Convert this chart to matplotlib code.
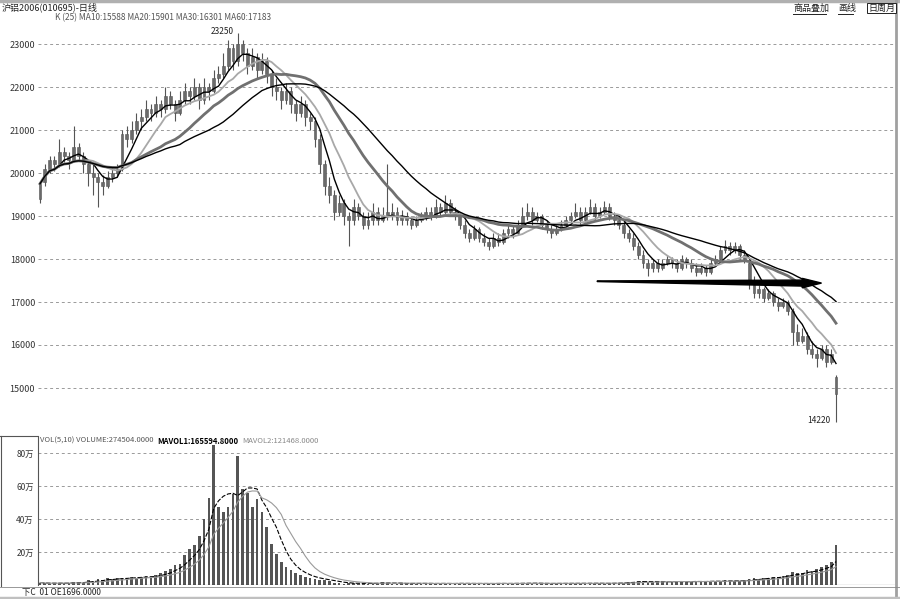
import numpy as np
import pandas as pd
import matplotlib
matplotlib.use("Agg")
import matplotlib.pyplot as plt
from matplotlib.patches import Polygon

plt.rcParams['font.family'] = ['Noto Sans CJK SC', 'DejaVu Sans']

# daily candles (price)
opens = [19400, 19800, 20100, 20300, 20200, 20500, 20400, 20300, 20600, 20400,
         20200, 20000, 19900, 19800, 19700, 19900, 20000, 20100, 20900, 20800,
         21000, 21200, 21300, 21500, 21400, 21600, 21500, 21800, 21600, 21400,
         21700, 21900, 21800, 22000, 21700, 22000, 21900, 22200, 22300, 22500,
         22900, 22600, 23000, 22800, 22500, 22700, 22400, 22600, 22300, 22000,
         21900, 21700, 21900, 21600, 21400, 21600, 21300, 21200, 20800, 20200,
         19700, 19500, 19100, 19300, 19000, 18900, 19200, 19000, 18800, 18900,
         19100, 18900, 19100, 19000, 19100, 18900, 19000, 18900, 18800, 18900,
         19000, 19100, 19000, 19200, 19100, 19300, 19100, 19000, 18800, 18600,
         18500, 18700, 18500, 18400, 18300, 18500, 18400, 18600, 18700, 18600,
         18800, 19000, 19100, 18900, 19000, 18800, 18700, 18600, 18700, 18800,
         18900, 19000, 19100, 18900, 19100, 19200, 19000, 19100, 19200, 19000,
         18900, 18800, 18600, 18500, 18300, 18100, 17900, 17800, 17900, 17800,
         17900, 18000, 17900, 17800, 18000, 17900, 17800, 17700, 17800, 17700,
         17900, 18000, 18200, 18300, 18200, 18300, 18100, 17900, 17500, 17200,
         17300, 17100, 17200, 17000, 16900, 17000, 16800, 16300, 16100, 16200,
         15900, 15800, 15700, 15900, 15600, 15250]
highs = [19800, 20200, 20400, 20400, 20800, 20600, 20500, 21100, 20700, 20500,
         20300, 20200, 20000, 19950, 20050, 20150, 20200, 21000, 21100, 21200,
         21400, 21500, 21700, 21600, 21800, 21700, 22000, 21900, 21700, 21900,
         22100, 22000, 22200, 22100, 22200, 22100, 22400, 22500, 22800, 23100,
         23000, 23250, 23100, 22900, 22900, 22800, 22800, 22700, 22400, 22200,
         22000, 22100, 22000, 21700, 21800, 21700, 21400, 21300, 20900, 20300,
         19900, 19600, 19500, 19400, 19100, 19400, 19300, 19100, 19100, 19300,
         19200, 19200, 20200, 19300, 19200, 19150, 19100, 19000, 19000, 19100,
         19200, 19200, 19400, 19300, 19500, 19400, 19200, 19100, 18900, 18700,
         18800, 18750, 18600, 18500, 18600, 18600, 18700, 18800, 18800, 18900,
         19200, 19300, 19200, 19100, 19050, 18900, 18800, 18800, 18900, 19000,
         19100, 19300, 19200, 19200, 19400, 19300, 19200, 19350, 19300, 19100,
         19000, 18900, 18700, 18600, 18400, 18200, 18000, 18000, 18000, 18000,
         18100, 18050, 18000, 18100, 18050, 18000, 17900, 17900, 17850, 18000,
         18100, 18300, 18450, 18400, 18400, 18350, 18200, 18000, 17600, 17400,
         17350, 17300, 17250, 17100, 17100, 17050, 16850, 16500, 16400, 16300,
         16100, 15900, 16000, 16000, 15900, 15300]
lows = [19300, 19700, 20000, 20050, 20150, 20250, 20100, 20250, 20300, 20000,
        19700, 19500, 19200, 19500, 19650, 19800, 19900, 20050, 20600, 20700,
        20900, 21000, 21200, 21200, 21300, 21300, 21400, 21500, 21200, 21350,
        21600, 21600, 21700, 21500, 21600, 21700, 21850, 22100, 22200, 22400,
        22400, 22500, 22600, 22300, 22400, 22200, 22300, 22100, 21800, 21700,
        21500, 21600, 21400, 21200, 21300, 21100, 21000, 20600, 20000, 19500,
        19300, 18900, 19000, 18800, 18300, 18800, 18900, 18700, 18700, 18800,
        18800, 18850, 18900, 18900, 18800, 18800, 18800, 18700, 18750, 18850,
        18900, 18900, 18950, 19000, 19050, 19000, 18900, 18700, 18500, 18400,
        18450, 18400, 18300, 18200, 18250, 18300, 18350, 18500, 18500, 18550,
        18750, 18900, 18800, 18850, 18700, 18600, 18500, 18550, 18650, 18750,
        18850, 18950, 18800, 18850, 19050, 18900, 18950, 19050, 18900, 18800,
        18700, 18500, 18400, 18200, 18000, 17800, 17600, 17700, 17700, 17750,
        17850, 17800, 17700, 17750, 17800, 17700, 17600, 17650, 17600, 17650,
        17850, 17950, 18150, 18100, 18150, 18000, 17900, 17300, 17100, 17100,
        17000, 17050, 16900, 16800, 16850, 16700, 16000, 16000, 16050, 15800,
        15700, 15500, 15650, 15500, 15550, 14220]
closes = [19750, 20100, 20300, 20200, 20500, 20400, 20300, 20600, 20400, 20200,
          20000, 19900, 19800, 19700, 19900, 20000, 20100, 20900, 20800, 21000,
          21200, 21300, 21500, 21400, 21600, 21500, 21800, 21600, 21400, 21700,
          21900, 21800, 22000, 21700, 22000, 21900, 22200, 22300, 22500, 22900,
          22600, 23000, 22800, 22500, 22700, 22400, 22600, 22300, 22000, 21900,
          21700, 21900, 21600, 21400, 21600, 21300, 21200, 20800, 20200, 19700,
          19500, 19100, 19300, 19000, 18900, 19200, 19000, 18800, 18900, 19100,
          18900, 19000, 19000, 19100, 18900, 19000, 18900, 18800, 18900, 19000,
          19100, 19000, 19200, 19100, 19300, 19100, 19000, 18800, 18600, 18500,
          18700, 18500, 18400, 18300, 18500, 18400, 18600, 18700, 18600, 18800,
          19000, 19100, 18900, 19000, 18800, 18700, 18600, 18700, 18800, 18900,
          19000, 19100, 18900, 19100, 19200, 19000, 19100, 19200, 19000, 18900,
          18800, 18600, 18500, 18300, 18100, 17900, 17800, 17900, 17800, 17900,
          18000, 17900, 17800, 18000, 17900, 17800, 17700, 17800, 17700, 17900,
          18000, 18200, 18300, 18200, 18300, 18100, 18000, 17500, 17200, 17300,
          17100, 17200, 17000, 16900, 17000, 16800, 16300, 16100, 16200, 15900,
          15800, 15700, 15900, 15600, 15800, 14850]
# volume, in units of 10k (万)
volumes = [1.5, 1.0, 0.8, 1.0, 1.2, 1.5, 1.0, 2.0, 1.5, 1.2,
           3.0, 2.5, 3.5, 3.0, 4.0, 3.5, 4.0, 4.5, 4.0, 5.0,
           4.5, 5.0, 5.5, 5.0, 6.0, 7.0, 8.5, 10.0, 12.0, 13.0,
           18.0, 22.0, 24.0, 30.0, 40.0, 53.0, 85.0, 47.0, 44.0, 47.0,
           55.0, 78.0, 58.0, 56.0, 47.0, 52.0, 44.0, 35.0, 25.0, 19.0,
           14.0, 11.0, 9.0, 7.0, 6.0, 5.0, 4.0, 3.5, 3.0, 3.0,
           2.5, 1.2, 1.0, 0.8, 1.5, 1.0, 0.9, 1.1, 0.8, 1.0,
           1.3, 2.0, 1.0, 0.9, 0.8, 1.0, 0.9, 1.1, 0.8, 0.9,
           1.0, 1.1, 0.8, 1.0, 0.9, 0.8, 1.0, 1.2, 1.0, 0.9,
           0.8, 0.9, 1.0, 0.8, 1.0, 1.1, 0.9, 0.8, 1.0, 1.2,
           1.1, 1.3, 1.0, 0.9, 0.8, 1.0, 0.9, 1.0, 1.1, 1.0,
           0.9, 1.0, 1.2, 1.0, 0.9, 1.1, 1.0, 0.9, 1.0, 1.2,
           1.3, 1.5, 1.8, 2.0, 2.2, 2.5, 2.0, 1.8, 2.0, 2.2,
           1.9, 2.0, 2.3, 2.1, 1.8, 2.0, 2.5, 2.2, 2.0, 2.4,
           2.3, 2.5, 2.8, 2.4, 2.6, 2.5, 2.8, 3.5, 4.0, 3.8,
           4.2, 4.5, 5.0, 4.8, 5.5, 6.0, 8.0, 7.0, 7.5, 9.0,
           8.5, 10.0, 11.0, 12.0, 14.0, 24.0]

price_ticks = [15000, 16000, 17000, 18000, 19000, 20000, 21000, 22000, 23000]
price_labels = ['15000', '16000', '17000', '18000', '19000', '20000', '21000', '22000', '23000']
vol_ticks = [20, 40, 60, 80]
vol_labels = ['20万', '40万', '60万', '80万']

title = '沪铝2006(010695)-日线'
ma_text = 'K (25) MA10:15588 MA20:15901 MA30:16301 MA60:17183'
vol_text = 'VOL(5,10) VOLUME:274504.0000'
mavol1_text = 'MAVOL1:165594.8000'
mavol2_text = 'MAVOL2:121468.0000'
bottom_text = '下C  01 OE1696.0000'
hi_label, lo_label = '23250', '14220'
arrow_from = (115.5, 17490)
arrow_to = (162.0, 17440)

W, H = 900, 599
fig = plt.figure(figsize=(9, 5.99), dpi=100)


def fx(x):
    return x / W


def fy(y):
    return 1 - y / H


n = len(closes)
idx = np.arange(n)
o = np.array(opens)
c = np.array(closes)
h = np.array(highs)
l = np.array(lows)
s = pd.Series(closes)

step = 796 / (n - 1)
x0 = -(40 - 38) / step
x1 = x0 + 857 / step

# price panel
ax = fig.add_axes([fx(38), fy(435), fx(857), (435 - 25) / H])
ax.set_xlim(x0, x1)
ax.set_ylim(15000 - 47 / 43 * 1000, 15000 + 363 / 43 * 1000)
for t in price_ticks:
    ax.axhline(t, color='#9a9a9a', lw=0.7, ls=(0, (3, 3)), zorder=0)
ax.vlines(idx, l, h, color='#555555', lw=0.8, zorder=2)
body_lo = np.minimum(o, c)
body_h = np.maximum(np.abs(c - o), 15)
ax.bar(idx, body_h, bottom=body_lo, width=0.6, color='#6a6a6a',
       edgecolor='#555555', lw=0.4, zorder=3)

ax.plot(idx, s.rolling(5, min_periods=1).mean(), color='black', lw=1.0, zorder=4)
ax.plot(idx, s.rolling(10, min_periods=1).mean(), color='#a8a8a8', lw=1.3, zorder=4)
ax.plot(idx, s.rolling(20, min_periods=1).mean(), color='#707070', lw=2.0, zorder=4)
ax.plot(idx, s.rolling(30, min_periods=1).mean(), color='black', lw=1.0, zorder=4)

# hand-drawn arrow
(ax0, ay0), (ax1_, ay1) = arrow_from, arrow_to
arrow = Polygon([(ax0, ay0), (ax1_ - 4, ay1 + 70), (ax1_ - 4, ay1 + 110),
                 (ax1_, ay1), (ax1_ - 4, ay1 - 110), (ax1_ - 4, ay1 - 70),
                 (ax0, ay0 - 15)], closed=True, color='black', zorder=6)
ax.add_patch(arrow)

imax = int(np.argmax(h))
imin = int(np.argmin(l))
ax.text(imax - 0.8, h[imax] + 30, hi_label, fontsize=6, ha='right', va='center', color='#222')
ax.text(imin - 1.2, l[imin] + 20, lo_label, fontsize=6, ha='right', va='center', color='#222')

ax.set_yticks(price_ticks)
ax.set_yticklabels(price_labels, fontsize=6.5, color='#333')
ax.tick_params(axis='y', length=0, pad=2)
ax.set_xticks([])
for sp in ax.spines.values():
    sp.set_visible(False)

# volume panel
vx = fig.add_axes([fx(38), fy(585), fx(857), (585 - 437) / H])
vx.set_xlim(x0, x1)
vx.set_ylim(0, (585 - 437) / 1.65)
for t in vol_ticks:
    vx.axhline(t, color='#9a9a9a', lw=0.7, ls=(0, (3, 3)), zorder=0)
vx.bar(idx, volumes, width=0.55, color='#555555', zorder=2)
vs = pd.Series(volumes)
vx.plot(idx, vs.rolling(5, min_periods=1).mean(), color='black', lw=0.8,
        ls=(0, (4, 1.5)), zorder=3)
vx.plot(idx, vs.rolling(10, min_periods=1).mean(), color='#9a9a9a', lw=0.8, zorder=3)
vx.axhline(0, color='black', lw=0.8, zorder=4)
vx.set_yticks(vol_ticks)
vx.set_yticklabels(vol_labels, fontsize=6, color='#333')
vx.tick_params(axis='y', length=0, pad=3)
vx.set_xticks([])
for k, sp in vx.spines.items():
    sp.set_visible(k == 'left')
vx.spines['left'].set_color('#555')
vx.spines['left'].set_linewidth(0.8)

# frame pieces
fig.add_artist(plt.Line2D([0, 1], [fy(1), fy(1)], color='#b0b0b0', lw=2.5))
fig.add_artist(plt.Line2D([fx(896), fx(896)], [0, 1], color='#a0a0a0', lw=2))
fig.add_artist(plt.Line2D([0, fx(38)], [fy(436), fy(436)], color='#555', lw=0.8))
fig.add_artist(plt.Line2D([fx(0.5), fx(0.5)], [fy(436), fy(586)], color='#555', lw=0.8))
fig.add_artist(plt.Line2D([0, 1], [fy(586.5), fy(586.5)], color='#888', lw=0.6))
fig.add_artist(plt.Line2D([0, 1], [fy(598), fy(598)], color='#c0c0c0', lw=2.5))

# header texts
fig.text(fx(2), fy(7), title, fontsize=6.5, va='center', color='#222')
fig.text(fx(55), fy(18), ma_text, fontsize=6, va='center', color='#555')
fig.text(fx(793), fy(8), '商品叠加', fontsize=6.5, va='center', color='#222')
fig.text(fx(838), fy(8), '画线', fontsize=6.5, va='center', color='#222')
fig.text(fx(868), fy(8), '日周月', fontsize=6.5, va='center', color='#222',
         bbox=dict(boxstyle='square,pad=0.1', fc='white', ec='#222', lw=0.7))
for a, b in [(793, 826), (838, 853)]:
    fig.add_artist(plt.Line2D([fx(a), fx(b)], [fy(14), fy(14)], color='#222', lw=0.7))

t1 = fig.text(fx(40), fy(441), vol_text, fontsize=5.5, va='center', color='#555')
fig.canvas.draw()
r = fig.canvas.get_renderer()
bb = t1.get_window_extent(r)
t2 = fig.text(bb.x1 / W + 0.004, fy(441), mavol1_text, fontsize=5.5, va='center',
              color='black', fontweight='bold')
bb2 = t2.get_window_extent(r)
fig.text(bb2.x1 / W + 0.004, fy(441), mavol2_text, fontsize=5.5, va='center', color='#888')

fig.text(fx(22), fy(592.5), bottom_text, fontsize=6, va='center', color='#222')

fig.savefig('out.png', dpi=100)
